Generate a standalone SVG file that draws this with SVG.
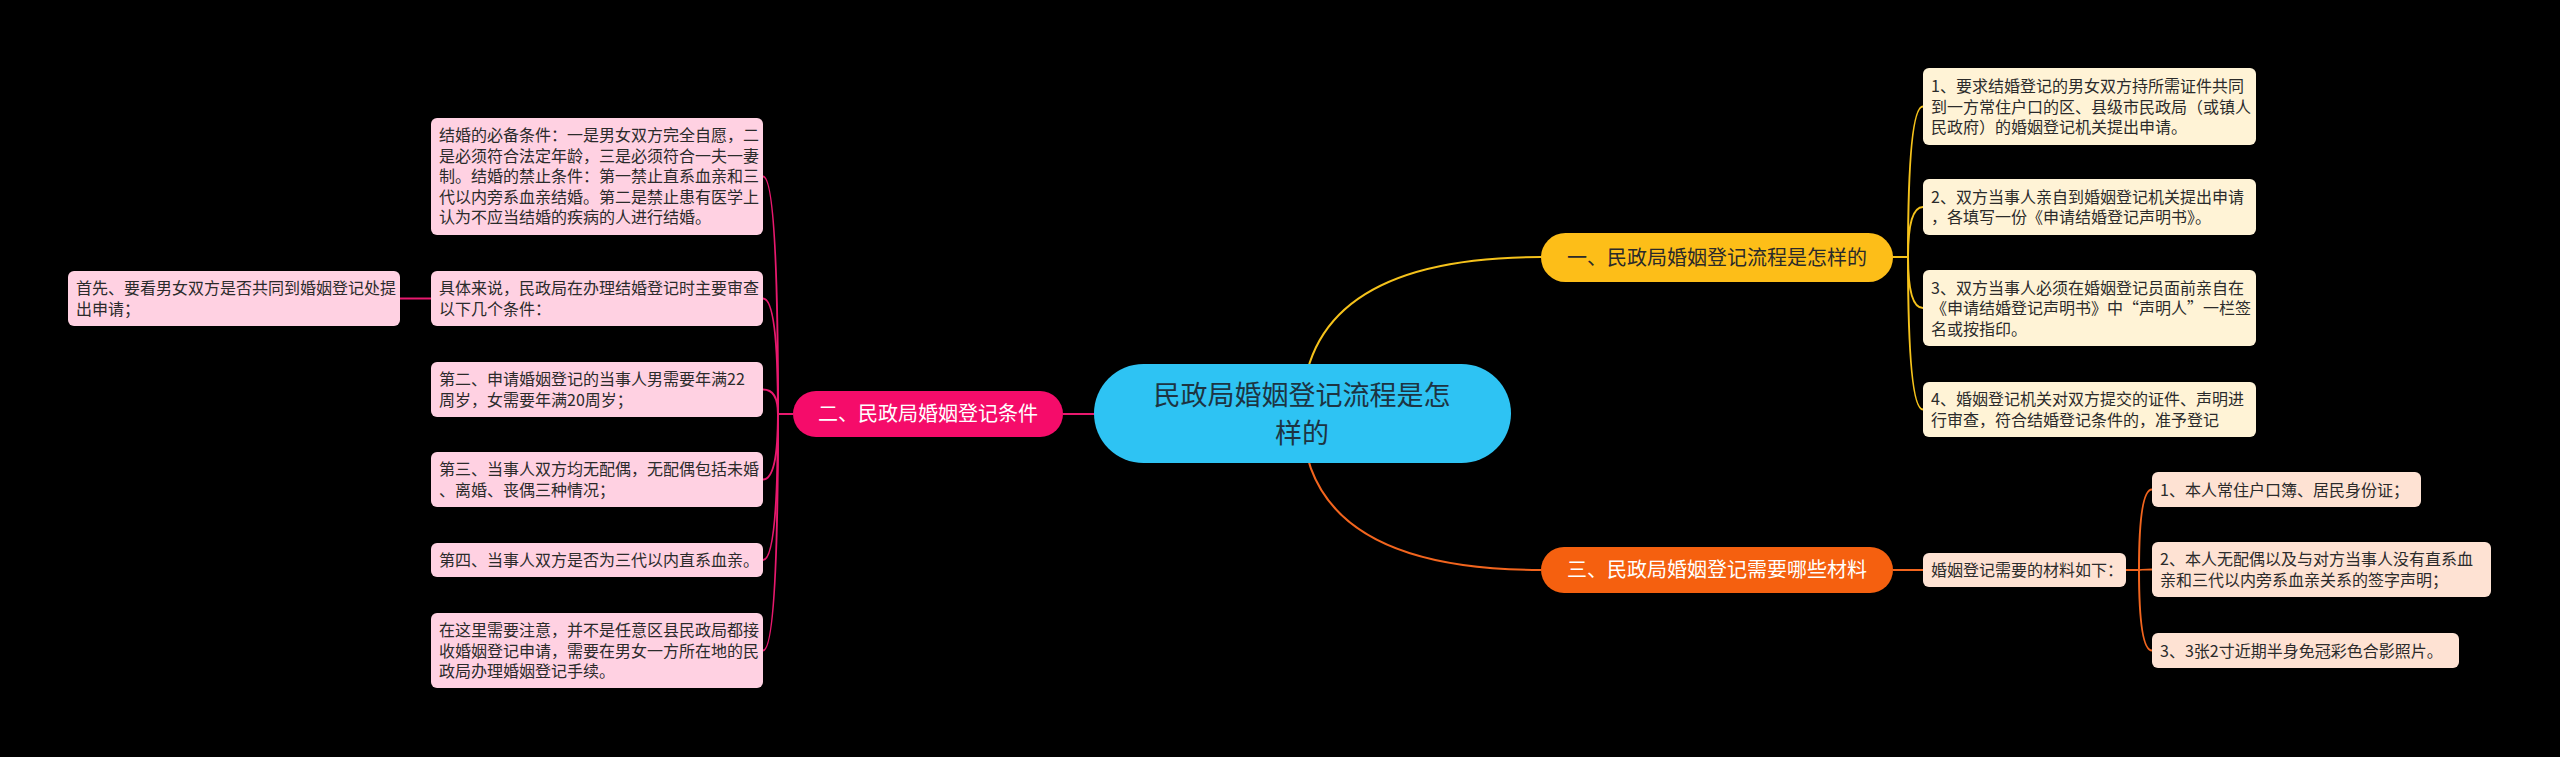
<svg xmlns="http://www.w3.org/2000/svg" width="2560" height="757" viewBox="0 0 2560 757">
<style>
text{font-family:"Noto Sans CJK SC","Noto Sans",sans-serif;}
.t{font-size:16px;fill:#2b2b2b;}
.pb{fill:#FFD1E2;}
.yb{fill:#FFF3D6;}
.ob{fill:#FEE2D3;}
.c{fill:none;stroke-width:2;}
.pk{stroke:#E8196E;}
.yl{stroke:#F5C21B;}
.or{stroke:#F2651E;}
.mt{font-size:20px;text-anchor:middle;}
</style>
<rect width="2560" height="757" fill="#000"/>
<g id="connectors">
<path class="c yl" d="M1302 414 Q1302 257 1541 257"/>
<path class="c or" d="M1302 414 Q1302 570 1541 570"/>
<path class="c pk" d="M1302 414 L1063 414"/>
<path class="c pk" d="M793 414 L778 414"/>
<path class="c pk" d="M778 414 Q778 176.5 763 176.5"/>
<path class="c pk" d="M778 414 Q778 298.5 763 298.5"/>
<path class="c pk" d="M778 414 Q778 389.5 763 389.5"/>
<path class="c pk" d="M778 414 Q778 479.5 763 479.5"/>
<path class="c pk" d="M778 414 Q778 560 763 560"/>
<path class="c pk" d="M778 414 Q778 650.5 763 650.5"/>
<path class="c pk" d="M431 298.5 L400 298.5"/>
<path class="c yl" d="M1893 257 L1908 257"/>
<path class="c yl" d="M1908 257 Q1908 106.5 1923 106.5"/>
<path class="c yl" d="M1908 257 Q1908 207 1923 207"/>
<path class="c yl" d="M1908 257 Q1908 308 1923 308"/>
<path class="c yl" d="M1908 257 Q1908 409.5 1923 409.5"/>
<path class="c or" d="M1893 570 L1923 570"/>
<path class="c or" d="M2126 570 L2139 570"/>
<path class="c or" d="M2139 570 Q2139 489.5 2152 489.5"/>
<path class="c or" d="M2139 570 Q2139 569.5 2152 569.5"/>
<path class="c or" d="M2139 570 Q2139 650.5 2152 650.5"/>
</g>
<g id="root">
<rect x="1094" y="364" width="417" height="99" rx="49.5" fill="#2EC3F3"/>
<text x="1302" y="405" font-size="27" text-anchor="middle" fill="#1D3442">民政局婚姻登记流程是怎</text>
<text x="1302" y="443" font-size="27" text-anchor="middle" fill="#1D3442">样的</text>
</g>
<g id="b1">
<rect x="1541" y="233" width="352" height="49" rx="24.5" fill="#FDBE18"/>
<text class="mt" x="1717" y="265" fill="#2a2a2a">一、民政局婚姻登记流程是怎样的</text>
</g>
<g id="b2">
<rect x="793" y="391" width="270" height="46" rx="23" fill="#F50C6A"/>
<text class="mt" x="928" y="421" fill="#fff">二、民政局婚姻登记条件</text>
</g>
<g id="b3">
<rect x="1541" y="547" width="352" height="46" rx="23" fill="#F5600F"/>
<text class="mt" x="1717" y="577" fill="#fff">三、民政局婚姻登记需要哪些材料</text>
</g>
<g id="p1">
<rect class="pb" x="431" y="118" width="332" height="117" rx="6"/>
<text class="t" x="439" y="141.3">结婚的必备条件：一是男女双方完全自愿，二</text>
<text class="t" x="439" y="161.8">是必须符合法定年龄，三是必须符合一夫一妻</text>
<text class="t" x="439" y="182.3">制。结婚的禁止条件：第一禁止直系血亲和三</text>
<text class="t" x="439" y="202.8">代以内旁系血亲结婚。第二是禁止患有医学上</text>
<text class="t" x="439" y="223.3">认为不应当结婚的疾病的人进行结婚。</text>
</g>
<g id="p2">
<rect class="pb" x="431" y="271" width="332" height="55" rx="6"/>
<text class="t" x="439" y="294">具体来说，民政局在办理结婚登记时主要审查</text>
<text class="t" x="439" y="314.5">以下几个条件：</text>
</g>
<g id="p2a">
<rect class="pb" x="68" y="271" width="332" height="55" rx="6"/>
<text class="t" x="76" y="294">首先、要看男女双方是否共同到婚姻登记处提</text>
<text class="t" x="76" y="314.5">出申请；</text>
</g>
<g id="p3">
<rect class="pb" x="431" y="362" width="332" height="55" rx="6"/>
<text class="t" x="439" y="385">第二、申请婚姻登记的当事人男需要年满22</text>
<text class="t" x="439" y="405.5">周岁，女需要年满20周岁；</text>
</g>
<g id="p4">
<rect class="pb" x="431" y="452" width="332" height="55" rx="6"/>
<text class="t" x="439" y="475">第三、当事人双方均无配偶，无配偶包括未婚</text>
<text class="t" x="439" y="495.5">、离婚、丧偶三种情况；</text>
</g>
<g id="p5">
<rect class="pb" x="431" y="543" width="332" height="34" rx="6"/>
<text class="t" x="439" y="566">第四、当事人双方是否为三代以内直系血亲。</text>
</g>
<g id="p6">
<rect class="pb" x="431" y="613" width="332" height="75" rx="6"/>
<text class="t" x="439" y="636">在这里需要注意，并不是任意区县民政局都接</text>
<text class="t" x="439" y="656.5">收婚姻登记申请，需要在男女一方所在地的民</text>
<text class="t" x="439" y="677">政局办理婚姻登记手续。</text>
</g>
<g id="y1">
<rect class="yb" x="1923" y="68" width="333" height="77" rx="6"/>
<text class="t" x="1931" y="92">1、要求结婚登记的男女双方持所需证件共同</text>
<text class="t" x="1931" y="112.5">到一方常住户口的区、县级市民政局（或镇人</text>
<text class="t" x="1931" y="133">民政府）的婚姻登记机关提出申请。</text>
</g>
<g id="y2">
<rect class="yb" x="1923" y="179" width="333" height="56" rx="6"/>
<text class="t" x="1931" y="202.6">2、双方当事人亲自到婚姻登记机关提出申请</text>
<text class="t" x="1931" y="223.1">，各填写一份《申请结婚登记声明书》。</text>
</g>
<g id="y3">
<rect class="yb" x="1923" y="270" width="333" height="76" rx="6"/>
<text class="t" x="1931" y="293.5">3、双方当事人必须在婚姻登记员面前亲自在</text>
<text class="t" x="1931" y="314">《申请结婚登记声明书》中“声明人”一栏签</text>
<text class="t" x="1931" y="334.5">名或按指印。</text>
</g>
<g id="y4">
<rect class="yb" x="1923" y="382" width="333" height="55" rx="6"/>
<text class="t" x="1931" y="405">4、婚姻登记机关对双方提交的证件、声明进</text>
<text class="t" x="1931" y="425.5">行审查，符合结婚登记条件的，准予登记</text>
</g>
<g id="o0">
<rect class="ob" x="1923" y="553" width="203" height="34" rx="6"/>
<text class="t" x="1931" y="576">婚姻登记需要的材料如下：</text>
</g>
<g id="o1">
<rect class="ob" x="2152" y="472" width="269" height="35" rx="6"/>
<text class="t" x="2160" y="495.5">1、本人常住户口簿、居民身份证；</text>
</g>
<g id="o2">
<rect class="ob" x="2152" y="542" width="339" height="55" rx="6"/>
<text class="t" x="2160" y="565">2、本人无配偶以及与对方当事人没有直系血</text>
<text class="t" x="2160" y="585.5">亲和三代以内旁系血亲关系的签字声明；</text>
</g>
<g id="o3">
<rect class="ob" x="2152" y="633" width="307" height="35" rx="6"/>
<text class="t" x="2160" y="656.5">3、3张2寸近期半身免冠彩色合影照片。</text>
</g>
</svg>
